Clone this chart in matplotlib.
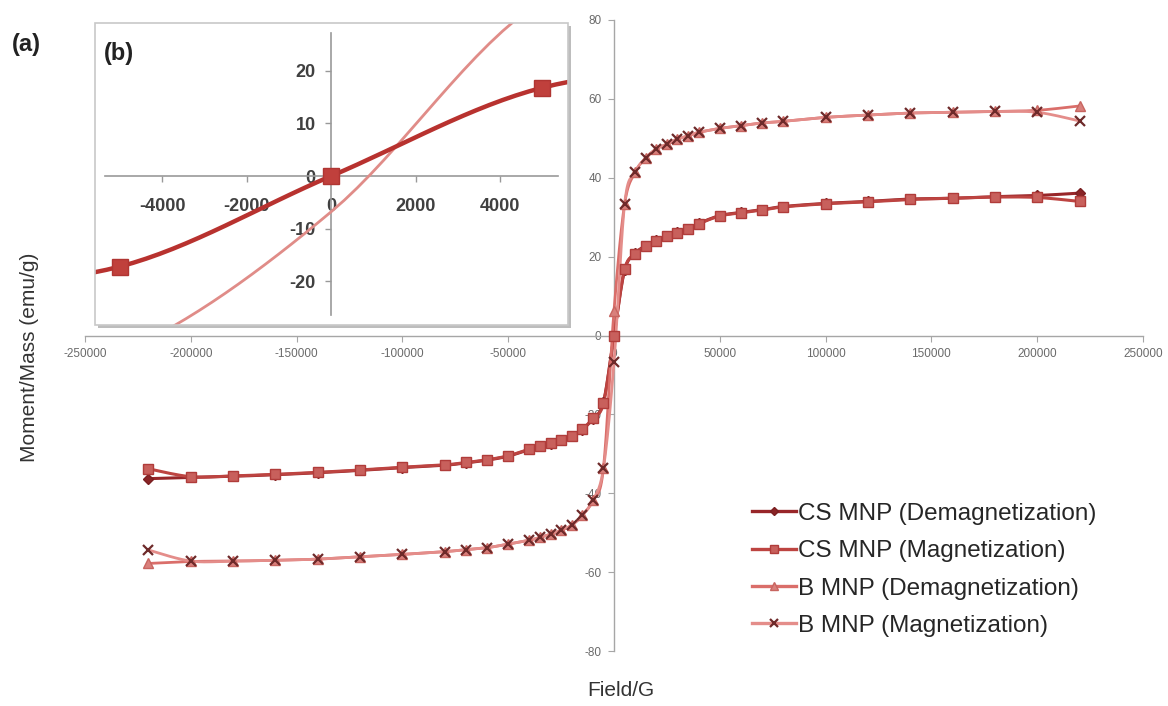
import numpy as np
import matplotlib
matplotlib.use("Agg")
import matplotlib.pyplot as plt
from matplotlib.patches import Rectangle

plt.rcParams['font.family'] = ['Liberation Sans', 'DejaVu Sans']

# applied field (G), shared by all four sweeps
field = [-220000, -200000, -180000, -160000, -140000, -120000, -100000, -80000,
         -70000, -60000, -50000, -40000, -35000, -30000, -25000, -20000, -15000,
         -10000, -5000, 0, 5000, 10000, 15000, 20000, 25000, 30000, 35000, 40000,
         50000, 60000, 70000, 80000, 100000, 120000, 140000, 160000, 180000,
         200000, 220000]

# moment per mass (emu/g)
cs_demag = [-36.3, -36.0, -35.7, -35.3, -34.8, -34.2, -33.5, -32.9, -32.3, -31.6,
            -30.6, -28.9, -28.1, -27.4, -26.6, -25.6, -23.9, -21.1, -16.9, 0.0,
            16.5, 20.8, 22.8, 24.1, 25.3, 26.2, 27.0, 28.4, 30.4, 31.2, 31.9, 32.7,
            33.5, 34.0, 34.6, 34.8, 35.2, 35.5, 36.1]
cs_mag = [-33.8, -35.8, -35.6, -35.2, -34.7, -34.1, -33.4, -32.8, -32.2, -31.5,
          -30.5, -28.8, -28.0, -27.3, -26.5, -25.5, -23.8, -21.0, -17.2, 0.0,
          16.8, 20.6, 22.7, 24.0, 25.2, 26.1, 26.9, 28.3, 30.3, 31.1, 31.8, 32.6,
          33.4, 33.9, 34.5, 34.8, 35.1, 35.0, 34.0]
b_demag = [-57.8, -57.3, -57.2, -57.0, -56.7, -56.1, -55.5, -54.8, -54.3, -53.8,
           -52.9, -51.9, -51.2, -50.4, -49.4, -48.1, -45.6, -41.8, -33.7, 6.3,
           33.3, 41.4, 45.0, 47.3, 48.5, 49.8, 50.6, 51.5, 52.5, 53.2, 53.9, 54.3,
           55.3, 55.9, 56.4, 56.6, 56.8, 57.1, 58.2]
b_mag = [-54.4, -57.2, -57.2, -57.0, -56.7, -56.1, -55.5, -54.8, -54.3, -53.8,
         -52.9, -51.9, -51.2, -50.4, -49.4, -48.1, -45.6, -41.8, -33.7, -6.8,
         33.3, 41.4, 45.0, 47.3, 48.5, 49.8, 50.6, 51.5, 52.5, 53.2, 53.9, 54.3,
         55.3, 55.9, 56.4, 56.6, 56.8, 56.6, 54.4]

labels = ['CS MNP (Demagnetization)', 'CS MNP (Magnetization)',
          'B MNP (Demagnetization)', 'B MNP (Magnetization)']

main_xticks = list(range(-250000, 250001, 50000))
main_yticks = list(range(-80, 81, 20))
inset_xticks = [-4000, -2000, 0, 2000, 4000]
inset_yticks = [-20, -10, 0, 10, 20]

AXIS_GREY = '#a6a6a6'


def smooth(x, y, n=16):
    """Catmull-Rom curve through the points (spreadsheet style smoothed line)."""
    p = np.column_stack([x, y]).astype(float)
    p = np.vstack([p[0], p, p[-1]])
    t = np.linspace(0, 1, n, endpoint=False)[:, None]
    parts = []
    for i in range(1, len(p) - 2):
        p0, p1, p2, p3 = p[i - 1], p[i], p[i + 1], p[i + 2]
        parts.append(0.5 * (2 * p1 + (p2 - p0) * t
                            + (2 * p0 - 5 * p1 + 4 * p2 - p3) * t ** 2
                            + (3 * p1 - p0 - 3 * p2 + p3) * t ** 3))
    parts.append(p[-2][None])
    out = np.vstack(parts)
    return out[:, 0], out[:, 1]


styles = [
    dict(color='#982629', marker='D', ms=5.5, mfc='#8a2426', mec='#7a1f21', lw=2.2),
    dict(color='#bd4441', marker='s', ms=7, mfc='#c8605c', mec='#b03c3a', lw=2.2),
    dict(color='#da6e6a', marker='^', ms=7, mfc='#d9807c', mec='#c86560', lw=2.0),
    dict(color='#e48d8a', marker='x', ms=7, mfc='none', mec='#6e2a2a', mew=1.6, lw=2.0),
]
series = [cs_demag, cs_mag, b_demag, b_mag]

fig = plt.figure(figsize=(11.68, 7.06), dpi=100)
W, H = 1168, 706

# ---- main hysteresis loop ----
ax = fig.add_axes([85 / W, 1 - 651 / H, (1143 - 85) / W, (651 - 20) / H])
ax.set_xlim(-250000, 250000)
ax.set_ylim(-80, 80)
for s in ['top', 'right']:
    ax.spines[s].set_visible(False)
for s in ['left', 'bottom']:
    ax.spines[s].set_position(('data', 0))
    ax.spines[s].set_color(AXIS_GREY)
    ax.spines[s].set_linewidth(1.0)
ax.set_xticks(main_xticks)
ax.set_xticklabels([str(v) for v in main_xticks])
ax.set_yticks(main_yticks)
ax.set_yticklabels([str(v) for v in main_yticks])
ax.tick_params(direction='out', length=4, width=0.8, color=AXIS_GREY,
               labelsize=8.5, labelcolor='#6a6a6a', pad=5)

handles = []
for ys, st in zip(series, styles):
    sx, sy = smooth(field, ys)
    ax.plot(sx, sy, color=st['color'], lw=st['lw'], solid_capstyle='round', zorder=3)
    ax.plot(field, ys, ls='none', marker=st['marker'], ms=st['ms'],
            mfc=st['mfc'], mec=st['mec'], mew=st.get('mew', 1.0), zorder=4)
    h, = ax.plot([], [], color=st['color'], lw=2.4, marker=st['marker'],
                 ms=st['ms'] - 1, mfc=st['mfc'], mec=st['mec'], mew=st.get('mew', 1.0))
    handles.append(h)

leg = fig.legend(handles, labels, loc='upper left',
                 bbox_to_anchor=(730 / W, 1 - 481 / H), frameon=False,
                 fontsize=17.5, handlelength=1.8, handletextpad=0.1,
                 labelspacing=0.63)
for t in leg.get_texts():
    t.set_color('#262626')

fig.text(30 / W, 1 - 357 / H, 'Moment/Mass (emu/g)', rotation=90,
         ha='center', va='center', fontsize=15, color='#333333')
fig.text(621 / W, 1 - 690 / H, 'Field/G', ha='center', va='center',
         fontsize=15, color='#333333')
fig.text(12 / W, 1 - 45 / H, '(a)', ha='left', va='center', fontsize=17,
         fontweight='bold', color='#222222')

# ---- inset: low field region ----
ix0, ix1, iy0, iy1 = 95, 568, 23, 325
fig.patches.append(Rectangle((ix0 + 3, H - iy1 - 3), ix1 - ix0, iy1 - iy0,
                             transform=None, facecolor='#bdbdbd', edgecolor='none',
                             zorder=5))
axi = fig.add_axes([ix0 / W, 1 - iy1 / H, (ix1 - ix0) / W, (iy1 - iy0) / H], zorder=6)
axi.patch.set_facecolor('white')
axi.set_xlim(-5586, 5609)
axi.set_ylim(-28.3, 29.1)
for s in ['top', 'right']:
    axi.spines[s].set_visible(False)
for s in ['left', 'bottom']:
    axi.spines[s].set_position(('data', 0))
    axi.spines[s].set_color('#999999')
    axi.spines[s].set_linewidth(1.2)
axi.spines['left'].set_bounds(-26.4, 27.2)
axi.spines['bottom'].set_bounds(-5350, 5370)
axi.set_xticks(inset_xticks)
axi.set_xticklabels([str(v) for v in inset_xticks])
axi.set_yticks(inset_yticks)
axi.set_yticklabels([str(v) for v in inset_yticks])
axi.tick_params(direction='out', length=4, width=1.0, color='#999999',
                labelsize=13, labelcolor='#404040')
axi.tick_params(axis='x', pad=12)
axi.tick_params(axis='y', pad=7)
for lbl in axi.get_xticklabels() + axi.get_yticklabels():
    lbl.set_fontweight('bold')

sx, sy = smooth(field, b_mag)
axi.plot(sx, sy, color='#e08c88', lw=2.0, zorder=3)
sx, sy = smooth(field, cs_mag)
axi.plot(sx, sy, color='#b8322f', lw=3.2, zorder=4)
axi.plot(field, cs_mag, ls='none', marker='s', ms=11, mfc='#c0403c',
         mec='#b03532', zorder=5)

frame = Rectangle((0, 0), 1, 1, transform=axi.transAxes, fill=False,
                  edgecolor='#c8c8c8', lw=1.2, zorder=10, clip_on=False)
axi.add_patch(frame)
axi.text(0.018, 0.9, '(b)', transform=axi.transAxes, fontsize=17,
         fontweight='bold', color='#222222', ha='left', va='center')

fig.savefig('out.png', dpi=100)
